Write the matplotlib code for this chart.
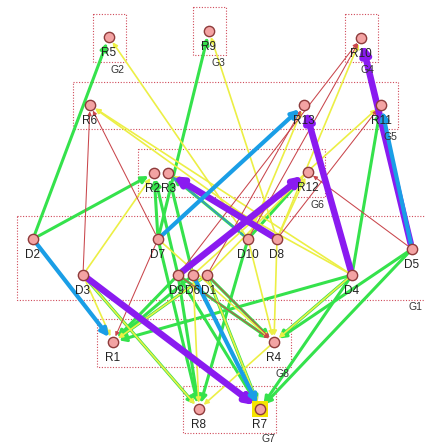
import matplotlib
matplotlib.use("Agg")
import matplotlib.pyplot as plt
from matplotlib.patches import FancyArrowPatch, Rectangle

plt.rcParams['font.family'] = ['Liberation Sans', 'DejaVu Sans']

# node layout (pixel positions in the original drawing, y grows downward)
node_names = ['R5', 'R9', 'R10', 'R6', 'R13', 'R11', 'R2', 'R3', 'R12',
              'D2', 'D7', 'D10', 'D8', 'D5', 'D3', 'D9', 'D6', 'D1', 'D4',
              'R1', 'R4', 'R8', 'R7']
node_x = [109, 209, 361, 90, 304, 381, 154, 168, 308,
          33, 158, 248, 277, 412, 83, 178, 193, 207, 352,
          113, 274, 199, 260]
node_y = [37, 31, 38, 105, 105, 105, 173, 173, 172,
          239, 239, 239, 239, 249, 275, 275, 275, 275, 275,
          342, 342, 409, 409]
# small horizontal nudges so crowded labels just touch
label_dx = {'D9': -1, 'D1': 1.5, 'R2': -1, 'R3': 1}

# groups: name, x0, y0, x1, y1, label position
group_names = ['G2', 'G3', 'G4', 'G5', 'G6', 'G1', 'G8', 'G7']
group_boxes = [(93, 14, 126, 62), (193, 7, 226, 55), (345, 14, 378, 62),
               (73, 82, 398, 129), (138, 149, 325, 197), (17, 216, 440, 300),
               (97, 319, 291, 367), (183, 386, 276, 433)]
group_label_pos = [(118, 70), (218, 63), (367, 70), (390, 137), (317, 205),
                   (416, 307), (283, 374), (268, 439)]

# edges by weight class (source -> target)
green_edges = [('D2', 'R5'), ('D7', 'R9'), ('D2', 'R2'), ('D4', 'R11'), ('D10', 'R12'),
               ('D10', 'R3'), ('D7', 'R2'), ('D9', 'R2'), ('D6', 'R3'),
               ('D10', 'R8'), ('D4', 'R7'), ('D5', 'R7'), ('D5', 'R4'), ('D1', 'R4'),
               ('D9', 'R4'), ('D3', 'R8'), ('D7', 'R8'), ('D9', 'R8'), ('D9', 'R1'),
               ('D6', 'R1'), ('D1', 'R1'), ('D4', 'R1'), ('D9', 'R7'), ('D1', 'R7'),
               ('D4', 'R4')]
yellow_edges = [('D10', 'R5'), ('D8', 'R9'), ('D8', 'R6'), ('D4', 'R6'), ('D8', 'R10'),
                ('D6', 'R11'), ('D10', 'R13'), ('D8', 'R12'), ('D1', 'R12'),
                ('D3', 'R2'), ('D4', 'R3'), ('D3', 'R1'), ('D3', 'R8'), ('D8', 'R4'),
                ('D10', 'R4'), ('D4', 'R4'), ('R4', 'R8'), ('D6', 'R8'), ('D1', 'R7'),
                ('D7', 'R4'), ('D1', 'R1')]
red_edges = [('D3', 'R6'), ('D7', 'R6'), ('D10', 'R10'), ('D9', 'R10'), ('D8', 'R11'),
             ('D1', 'R13'), ('D5', 'R12'), ('D7', 'R1'), ('D9', 'R4'), ('D1', 'R4')]
blue_edges = [('D7', 'R13'), ('D2', 'R1'), ('D6', 'R7'), ('D5', 'R11')]
thin_blue_edges = [('D10', 'R3')]
purple_edges = [('D5', 'R10'), ('D4', 'R13'), ('D9', 'R12'), ('D8', 'R3'), ('D3', 'R7')]

pos = {n: (x, y) for n, x, y in zip(node_names, node_x, node_y)}

fig = plt.figure(figsize=(4.25, 4.44), dpi=100)
ax = fig.add_axes([0, 0, 1, 1])
ax.set_xlim(0, 425)
ax.set_ylim(444, 0)
ax.axis('off')

# dotted group boxes
for name, (x0, y0, x1, y1), (lx, ly) in zip(group_names, group_boxes, group_label_pos):
    ax.add_patch(Rectangle((x0, y0), x1 - x0, y1 - y0, fill=False,
                           edgecolor='#d04a5a', lw=0.8, ls=(0, (1, 1.5)), zorder=1))
    ax.text(lx, ly, name, fontsize=7.5, color='#333333', ha='center', va='center', zorder=6)


def draw_edges(edges, color, lw, ms, z):
    for s, t in edges:
        arr = FancyArrowPatch(pos[s], pos[t], arrowstyle='-|>', mutation_scale=ms,
                              color=color, lw=lw, shrinkA=4, shrinkB=4.5, zorder=z)
        ax.add_patch(arr)


draw_edges(green_edges, '#35e24c', 2.2, 10, 2)
draw_edges(yellow_edges, '#ecef45', 1.2, 7, 2.1)
draw_edges(red_edges, '#c9464c', 0.75, 6, 2.2)
draw_edges(thin_blue_edges, '#3a8fc8', 1.0, 6, 2.3)
draw_edges(purple_edges, '#8a1bf0', 4.7, 12, 2.4)
draw_edges(blue_edges, '#1a9ee6', 3.0, 11, 2.5)

# highlight of the selected node
rx, ry = pos['R7']
ax.add_patch(Rectangle((rx - 8, ry - 8), 16, 16, facecolor='#f5e400', edgecolor='none', zorder=3))

ax.scatter(node_x, node_y, s=55, facecolor='#f3a3a3', edgecolor='#8e3b3b',
           linewidths=1.0, zorder=4)

for n, x, y in zip(node_names, node_x, node_y):
    ax.text(x + label_dx.get(n, 0), y + 16, n, fontsize=8.5, color='#222222',
            ha='center', va='center', zorder=5)

fig.savefig('out.png', dpi=100, facecolor='white')
